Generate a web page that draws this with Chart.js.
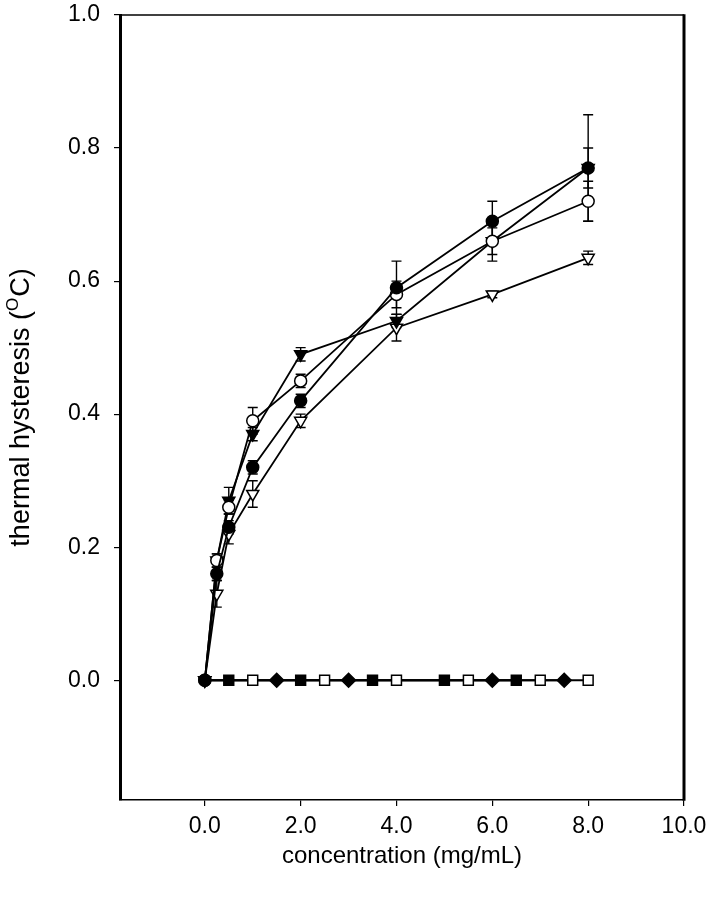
<!DOCTYPE html>
<html>
<head>
<meta charset="utf-8">
<script src="https://cdn.jsdelivr.net/npm/chart.js@4.4.1/dist/chart.umd.min.js"></script>
<style>
html,body{margin:0;padding:0;background:#fff;}
#wrap{width:713px;height:900px;}
</style>
</head>
<body>
<div id="wrap"><canvas id="c" width="713" height="900"></canvas></div>
<script>
// ---- data ----
const concentrations = [0, 0.25, 0.5, 1, 2, 4, 6, 8];
const filledCircle = [0, 0.16, 0.23, 0.32, 0.42, 0.59, 0.69, 0.77];
const filledCircleErr = [0, 0.01, 0.01, 0.01, 0.01, 0.04, 0.03, 0.08];
const openCircle = [0, 0.18, 0.26, 0.39, 0.45, 0.58, 0.66, 0.72];
const openCircleErr = [0, 0.01, 0.01, 0.02, 0.01, 0.02, 0.02, 0.03];
const filledTriangle = [0, 0.18, 0.27, 0.37, 0.49, 0.54, 0.66, 0.77];
const filledTriangleErr = [0, 0.01, 0.02, 0.01, 0.01, 0.01, 0.03, 0.03];
const openTriangle = [0, 0.13, 0.22, 0.28, 0.39, 0.53, 0.58, 0.635];
const openTriangleErr = [0, 0.02, 0.015, 0.02, 0.01, 0.02, 0.005, 0.01];

const filledSquareX = [0, 0.5, 2, 3.5, 5, 6.5];
const filledSquareY = [0, 0, 0, 0, 0, 0];
const openSquareX = [0, 1, 2.5, 4, 5.5, 7, 8];
const openSquareY = [0, 0, 0, 0, 0, 0, 0];
const diamondX = [0, 1.5, 3, 6, 7.5];
const diamondY = [0, 0, 0, 0, 0];

const xTickValues = [0, 2, 4, 6, 8, 10];
const yTickValues = [0, 0.2, 0.4, 0.6, 0.8, 1.0];
const xTitle = 'concentration (mg/mL)';
const yTitleMain = 'thermal hysteresis (';
const yTitleSup = 'O';
const yTitleEnd = 'C)';

const FONT = '"Liberation Sans", Arial, Helvetica, sans-serif';

function pts(xs, ys, errs) {
  return xs.map((x, i) => ({ x: x, y: ys[i], err: errs ? errs[i] : 0 }));
}

function series(label, xs, ys, errs, style, filled, radius, rotation) {
  return {
    label: label,
    data: pts(xs, ys, errs),
    showLine: true,
    borderColor: '#000',
    borderWidth: 1.8,
    tension: 0,
    pointStyle: style,
    pointRotation: rotation || 0,
    pointRadius: (ctx) => (ctx.raw && ctx.raw.x === 0 && label.startsWith('zero')) ? 0 : radius,
    pointBorderWidth: 1.5,
    pointBorderColor: '#000',
    pointBackgroundColor: filled ? '#000' : '#fff'
  };
}

const errorBars = {
  id: 'errorBars',
  beforeDatasetsDraw(chart) {
    const ctx = chart.ctx;
    const xs = chart.scales.x, ys = chart.scales.y;
    ctx.save();
    ctx.strokeStyle = '#000';
    ctx.lineWidth = 1.4;
    chart.data.datasets.forEach((ds) => {
      ds.data.forEach((p) => {
        if (!p.err) return;
        const px = xs.getPixelForValue(p.x);
        const top = ys.getPixelForValue(p.y + p.err);
        const bot = ys.getPixelForValue(p.y - p.err);
        ctx.beginPath();
        ctx.moveTo(px, top); ctx.lineTo(px, bot);
        ctx.moveTo(px - 5, top); ctx.lineTo(px + 5, top);
        ctx.moveTo(px - 5, bot); ctx.lineTo(px + 5, bot);
        ctx.stroke();
      });
    });
    ctx.restore();
  }
};

const frame = {
  id: 'frame',
  afterDraw(chart) {
    const ctx = chart.ctx;
    const a = chart.chartArea;
    ctx.save();
    ctx.strokeStyle = '#000';
    ctx.lineWidth = 1.5;
    ctx.beginPath();
    ctx.moveTo(a.left, a.top); ctx.lineTo(a.right, a.top);
    ctx.stroke();
    ctx.lineWidth = 3;
    ctx.beginPath();
    ctx.moveTo(a.right, a.top - 0.75); ctx.lineTo(a.right, a.bottom + 0.75);
    ctx.stroke();
    // y-axis title with superscript
    ctx.fillStyle = '#000';
    ctx.textBaseline = 'middle';
    const big = '27px ' + FONT, small = '17px ' + FONT;
    ctx.font = big;
    const w1 = ctx.measureText(yTitleMain).width;
    const w3 = ctx.measureText(yTitleEnd).width;
    ctx.font = small;
    const w2 = ctx.measureText(yTitleSup).width + 1;
    const total = w1 + w2 + w3;
    ctx.translate(22, (a.top + a.bottom) / 2);
    ctx.rotate(-Math.PI / 2);
    let x0 = -total / 2;
    ctx.textAlign = 'left';
    ctx.font = big;
    ctx.fillText(yTitleMain, x0, 0);
    ctx.font = small;
    ctx.fillText(yTitleSup, x0 + w1, -9);
    ctx.font = big;
    ctx.fillText(yTitleEnd, x0 + w1 + w2, 0);
    ctx.restore();
  }
};

new Chart(document.getElementById('c'), {
  type: 'scatter',
  data: {
    datasets: [
      series('filled circle', concentrations, filledCircle, filledCircleErr, 'circle', true, 6),
      series('open circle', concentrations, openCircle, openCircleErr, 'circle', false, 6),
      series('filled triangle', concentrations, filledTriangle, filledTriangleErr, 'triangle', true, 7, 180),
      series('open triangle', concentrations, openTriangle, openTriangleErr, 'triangle', false, 7, 180),
      series('zero open square', openSquareX, openSquareY, null, 'rect', false, 7),
      series('zero filled square', filledSquareX, filledSquareY, null, 'rect', true, 7),
      series('zero diamond', diamondX, diamondY, null, 'rectRot', true, 7)
    ]
  },
  options: {
    responsive: false,
    devicePixelRatio: 1,
    animation: false,
    layout: { padding: { left: 0, top: 15, right: 29, bottom: 0 } },
    plugins: { legend: { display: false }, tooltip: { enabled: false } },
    scales: {
      x: {
        type: 'linear',
        min: -1.77,
        max: 10,
        afterFit(s) { s.height = 100; s.paddingLeft = 0; s.paddingRight = 0; },
        afterBuildTicks(s) { s.ticks = xTickValues.map(v => ({ value: v })); },
        border: { display: true, color: '#000', width: 1.5 },
        grid: { display: true, drawOnChartArea: false, drawTicks: true, tickLength: 6, color: '#000', lineWidth: 1.2 },
        ticks: {
          color: '#000', padding: 7, maxRotation: 0,
          font: { family: FONT, size: 23 },
          callback: (v) => Number(v).toFixed(1)
        },
        title: {
          display: true, text: xTitle, color: '#000',
          font: { family: FONT, size: 24 },
          padding: { top: 0, bottom: 29 }
        }
      },
      y: {
        type: 'linear',
        min: -0.18,
        max: 1.0,
        afterFit(s) { s.width = 120; s.paddingTop = 0; s.paddingBottom = 0; },
        afterBuildTicks(s) { s.ticks = yTickValues.map(v => ({ value: v })); },
        border: { display: true, color: '#000', width: 3 },
        grid: { display: true, drawOnChartArea: false, drawTicks: true, tickLength: 6, color: '#000', lineWidth: 1.2 },
        ticks: {
          color: '#000', padding: 14,
          font: { family: FONT, size: 23 },
          callback: (v) => Number(v).toFixed(1)
        }
      }
    }
  },
  plugins: [errorBars, frame]
});
</script>
</body>
</html>
